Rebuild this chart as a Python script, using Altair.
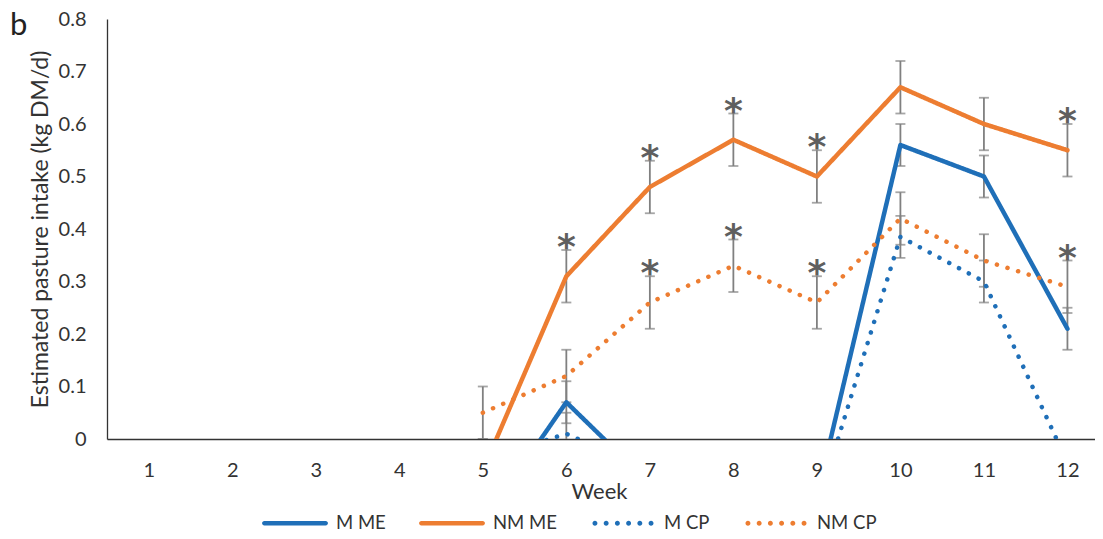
import altair as alt
import pandas as pd

weeks = [1, 2, 3, 4, 5, 6, 7, 8, 9, 10, 11, 12]
series_names = ["M ME", "NM ME", "M CP", "NM CP"]
m_me = [None, None, None, None, -0.16, 0.07, -0.085, -0.10, -0.11, 0.56, 0.50, 0.21]
nm_me = [None, None, None, None, -0.06, 0.31, 0.48, 0.57, 0.50, 0.67, 0.60, 0.55]
m_cp = [None, None, None, None, -0.04, 0.01, -0.06, -0.10, -0.13, 0.385, 0.30, -0.045]
nm_cp = [None, None, None, None, 0.05, 0.12, 0.26, 0.33, 0.26, 0.42, 0.34, 0.29]
m_me_err = [None, None, None, None, 0.04, 0.04, 0.04, 0.04, 0.04, 0.04, 0.04, 0.04]
nm_me_err = [None, None, None, None, 0.05, 0.05, 0.05, 0.05, 0.05, 0.05, 0.05, 0.05]
m_cp_err = [None, None, None, None, 0.04, 0.04, 0.04, 0.04, 0.04, 0.04, 0.04, 0.04]
nm_cp_err = [None, None, None, None, 0.05, 0.05, 0.05, 0.05, 0.05, 0.05, 0.05, 0.05]
star_series = ["NM ME", "NM ME", "NM ME", "NM ME", "NM ME", "NM CP", "NM CP", "NM CP", "NM CP"]
star_weeks = [6, 7, 8, 9, 12, 7, 8, 9, 12]
y_ticks = [0, 0.1, 0.2, 0.3, 0.4, 0.5, 0.6, 0.7, 0.8]
panel_label = ["b"]

BLUE = "#1f6fb8"
ORANGE = "#ed7d31"
GRAY = "#808080"
FONT = "Lato"
TXT = "#333333"

# legend symbol paths (unit space, scaled by sqrt(symbolSize)/2)
h = 0.068
SOLID = (f"M-0.93,{-h} H0.93 A{h},{h} 0 0,1 0.93,{h} H-0.93 "
         f"A{h},{h} 0 0,1 -0.93,{-h} Z")
r = 0.075
DOTS = " ".join(
    f"M{cx - r:.3f},0 a{r},{r} 0 1,0 {2 * r},0 a{r},{r} 0 1,0 {-2 * r},0 Z"
    for cx in [-0.85, -0.51, -0.17, 0.17, 0.51, 0.85])

rows = []
for name, vals, errs in zip(series_names, [m_me, nm_me, m_cp, nm_cp],
                            [m_me_err, nm_me_err, m_cp_err, nm_cp_err]):
    for w, v, e in zip(weeks, vals, errs):
        if v is None:
            continue
        rows.append({"week": w, "series": name, "value": v,
                     "lo": v - e, "hi": v + e})
df = pd.DataFrame(rows)

star_rows = []
for s, w in zip(star_series, star_weeks):
    rr = df[(df.series == s) & (df.week == w)].iloc[0]
    star_rows.append({"week": w, "series": s, "top": rr["hi"], "star": "*"})
stars = pd.DataFrame(star_rows)

xscale = alt.Scale(domain=[0.5, 12.33], nice=False, zero=False)
yscale = alt.Scale(domain=[0, 0.8], nice=False, zero=False)
cscale = alt.Scale(domain=series_names, range=[BLUE, ORANGE, BLUE, ORANGE])
# line scales use a different domain order so their (hidden) legends stay separate
line_order = ["NM CP", "M CP", "NM ME", "M ME"]
line_color = alt.Scale(domain=line_order, range=[ORANGE, BLUE, ORANGE, BLUE])
line_dash = alt.Scale(domain=line_order, range=[[0.1, 11], [0.1, 11], [1, 0], [1, 0]])

x_axis = alt.Axis(values=weeks, format="d", grid=False, ticks=False,
                  labelPadding=21, labelFontSize=20, labelColor=TXT, labelFont=FONT,
                  domainColor="#333333", domainWidth=1.5,
                  title="Week", titleFont=FONT, titleFontSize=22, titleFontWeight="normal",
                  titleColor=TXT, titleX=492, titleY=52, titleBaseline="middle")
y_axis = alt.Axis(values=y_ticks, format="~g", grid=False, ticks=False,
                  labelPadding=21, labelFontSize=20, labelColor=TXT, labelFont=FONT,
                  domainColor="#333333", domainWidth=1.3,
                  title="Estimated pasture intake (kg DM/d)", titleFont=FONT,
                  titleFontSize=23, titleFontWeight="normal", titleColor=TXT,
                  titleX=-67, titleY=210, titleBaseline="middle", titleAngle=-90)

base = alt.Chart(df)

lines = base.mark_line(clip=True, strokeWidth=4.5, strokeCap="round",
                       strokeJoin="round").encode(
    x=alt.X("week:Q", scale=xscale, axis=x_axis),
    y=alt.Y("value:Q", scale=yscale, axis=y_axis),
    stroke=alt.Stroke("series:N", scale=line_color, legend=None),
    strokeDash=alt.StrokeDash("series:N", scale=line_dash, legend=None),
    detail="series:N",
)

legend_def = alt.Legend(title=None, orient="none", direction="horizontal",
                        legendX=155, legendY=471, symbolSize=4356,
                        symbolStrokeWidth=0, symbolOpacity=1, labelFont=FONT,
                        labelFontSize=18.5, labelColor=TXT, labelOffset=8,
                        columnPadding=33)

legend_pts = base.mark_point(filled=True, opacity=0).encode(
    x=alt.X("week:Q", scale=xscale),
    y=alt.Y("value:Q", scale=yscale),
    color=alt.Color("series:N", scale=cscale, legend=legend_def),
    shape=alt.Shape("series:N",
                    scale=alt.Scale(domain=series_names,
                                    range=[SOLID, SOLID, DOTS, DOTS]),
                    legend=legend_def),
)

rules = base.mark_rule(clip=True, color=GRAY, strokeWidth=1.8).encode(
    x=alt.X("week:Q", scale=xscale),
    y=alt.Y("lo:Q", scale=yscale),
    y2="hi:Q",
)
cap_lo = base.mark_tick(clip=True, color=GRAY, orient="horizontal", size=10,
                        thickness=1.8).encode(
    x=alt.X("week:Q", scale=xscale), y=alt.Y("lo:Q", scale=yscale))
cap_hi = base.mark_tick(clip=True, color=GRAY, orient="horizontal", size=10,
                        thickness=1.8).encode(
    x=alt.X("week:Q", scale=xscale), y=alt.Y("hi:Q", scale=yscale))

star_text = alt.Chart(stars).mark_text(font="DejaVu Sans", fontSize=36, fontWeight="bold",
                                       color="#5f5f5f", baseline="alphabetic",
                                       align="center", dy=9).encode(
    x=alt.X("week:Q", scale=xscale),
    y=alt.Y("top:Q", scale=yscale),
    text="star:N",
)

label_b = alt.Chart(pd.DataFrame({"t": panel_label})).mark_text(
    font=FONT, fontSize=31, color="#222222", align="left", baseline="alphabetic"
).encode(x=alt.value(-97), y=alt.value(16), text="t:N")

chart = alt.layer(rules, cap_lo, cap_hi, lines, legend_pts, star_text, label_b).properties(
    width=988, height=420,
    padding={"left": 99, "top": 11, "right": 0, "bottom": 92},
    autosize=alt.AutoSizeParams(type="none"),
).configure_view(stroke=None)

chart.save("out.html", embed_options={"renderer": "svg", "actions": False})
